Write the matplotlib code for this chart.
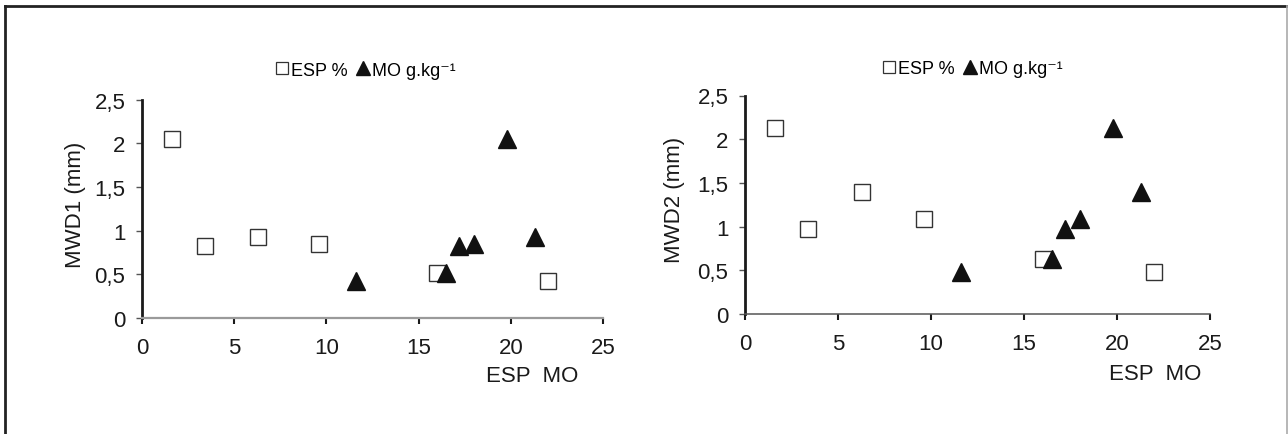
import matplotlib
matplotlib.use("Agg")
import matplotlib.pyplot as plt
from matplotlib.lines import Line2D
from matplotlib.ticker import FixedLocator, FixedFormatter

plt.rcParams['font.family'] = ['Liberation Sans', 'DejaVu Sans']

# Data
esp = [1.6, 3.4, 6.3, 9.6, 16.0, 22.0]           # ESP %
mo = [19.8, 17.2, 21.3, 18.0, 16.5, 11.6]         # MO g.kg-1
mwd1 = [2.05, 0.83, 0.93, 0.85, 0.51, 0.42]       # MWD1 (mm)
mwd2 = [2.13, 0.97, 1.40, 1.09, 0.63, 0.48]       # MWD2 (mm)

xticks = [0, 5, 10, 15, 20, 25]
xticklabels = ["0", "5", "10", "15", "20", "25"]
yticks = [0, 0.5, 1, 1.5, 2, 2.5]
yticklabels = ["0", "0,5", "1", "1,5", "2", "2,5"]

W, H = 1288, 435
fig = plt.figure(figsize=(W / 100, H / 100), dpi=100)


def px_axes(x0, x1, ytop, ybot):
    return fig.add_axes([x0 / W, 1 - ybot / H, (x1 - x0) / W, (ybot - ytop) / H])


panels = [
    dict(box=(142, 603, 100.7, 319), y=mwd1, ylabel="MWD1 (mm)",
         bottom_col="#9a9a9a", bottom_lw=1.6, leg=(364, 71), xl=(532, 377), yl=(75, 204.5)),
    dict(box=(745, 1210, 96.5, 315), y=mwd2, ylabel="MWD2 (mm)",
         bottom_col="#555555", bottom_lw=1.1, leg=(971, 70), xl=(1155, 375), yl=(675, 200)),
]

FS = 16

for p in panels:
    ax = px_axes(*p["box"])
    ax.plot(esp, p["y"], linestyle="none", marker="s", markersize=11.5,
            markerfacecolor="white", markeredgecolor="#333333", markeredgewidth=1.0,
            zorder=3, clip_on=False)
    ax.plot(mo, p["y"], linestyle="none", marker="^", markersize=13,
            markerfacecolor="#111111", markeredgecolor="#111111", zorder=4, clip_on=False)
    ax.set_xlim(0, 25)
    ax.set_ylim(0, 2.5)
    ax.xaxis.set_major_locator(FixedLocator(xticks))
    ax.xaxis.set_major_formatter(FixedFormatter(xticklabels))
    ax.yaxis.set_major_locator(FixedLocator(yticks))
    ax.yaxis.set_major_formatter(FixedFormatter(yticklabels))
    for s in ("top", "right"):
        ax.spines[s].set_visible(False)
    ax.spines["left"].set_color("#1a1a1a")
    ax.spines["left"].set_linewidth(2.0)
    ax.spines["bottom"].set_color(p["bottom_col"])
    ax.spines["bottom"].set_linewidth(p["bottom_lw"])
    ax.tick_params(axis="x", direction="out", length=4, width=1.5, color="#1a1a1a",
                   pad=10, labelsize=FS, labelcolor="#1a1a1a")
    ax.tick_params(axis="y", direction="out", length=4, width=1.0, color="#555555",
                   pad=8, labelsize=FS, labelcolor="#1a1a1a")
    ax.patch.set_alpha(0)

    # y label
    fig.text(p["yl"][0] / W, 1 - p["yl"][1] / H, p["ylabel"],
             rotation=90, ha="center", va="center", fontsize=FS, color="#1a1a1a")
    # x label
    fig.text(p["xl"][0] / W, 1 - p["xl"][1] / H, "ESP  MO", ha="center", va="center",
             fontsize=FS, color="#1a1a1a")
    # legend
    h1 = Line2D([], [], linestyle="none", marker="s", markersize=9,
                markerfacecolor="white", markeredgecolor="#333333", markeredgewidth=0.9)
    h2 = Line2D([], [], linestyle="none", marker="^", markersize=10,
                markerfacecolor="#111111", markeredgecolor="#111111")
    fig.legend([h1, h2], ["ESP %", "MO g.kg\u207b\u00b9"], ncol=2, frameon=False,
               loc="center", bbox_to_anchor=(p["leg"][0] / W, 1 - p["leg"][1] / H),
               handletextpad=0.0, columnspacing=0.35, handlelength=1.0,
               fontsize=13, borderpad=0, borderaxespad=0)

# figure border (left & top dark, right light grey)
fig.add_artist(Line2D([4.7 / W, 4.7 / W], [0, 1 - 6.5 / H], transform=fig.transFigure,
                      color="#222222", linewidth=2.0))
fig.add_artist(Line2D([4.7 / W, 1], [1 - 6.5 / H, 1 - 6.5 / H], transform=fig.transFigure,
                      color="#222222", linewidth=2.0))
fig.add_artist(Line2D([1286.5 / W, 1286.5 / W], [0, 1 - 6.5 / H], transform=fig.transFigure,
                      color="#aaaaaa", linewidth=1.2))

fig.savefig("out.png", dpi=100, facecolor="white")
